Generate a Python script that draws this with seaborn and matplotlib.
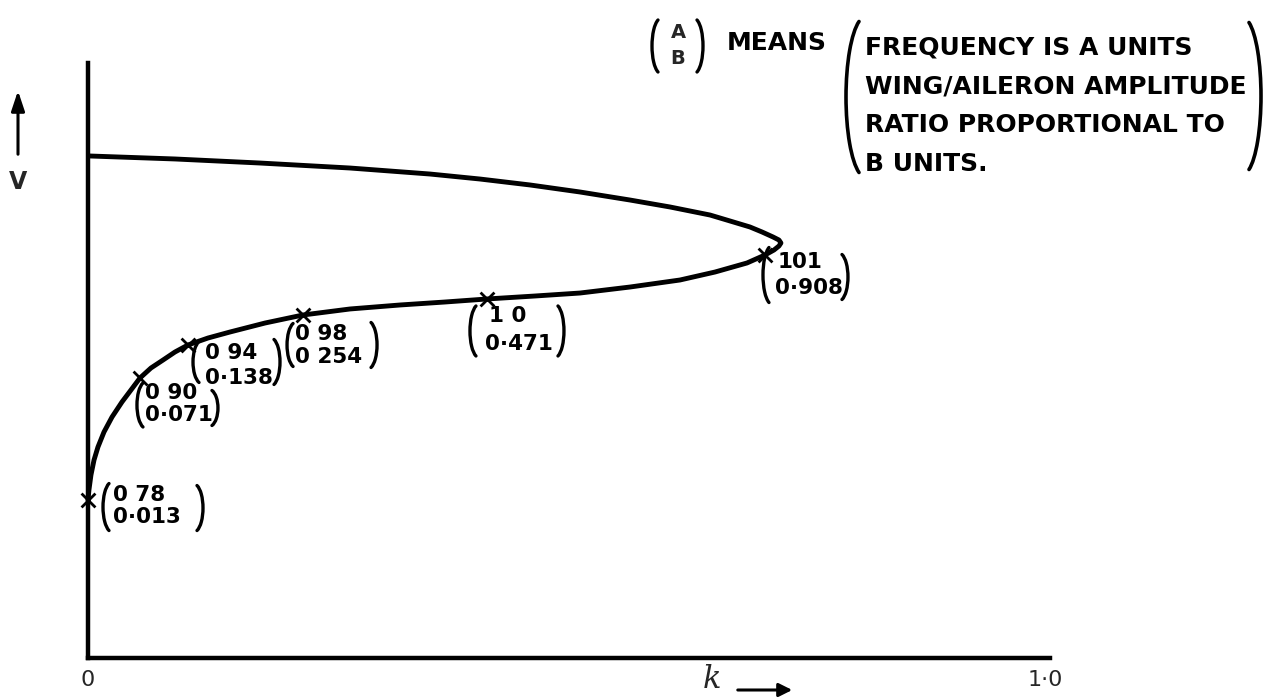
import numpy as np
import pandas as pd
import matplotlib
matplotlib.use("Agg")
import matplotlib.pyplot as plt
from matplotlib.patches import Arc, FancyArrowPatch
from matplotlib.transforms import IdentityTransform
import seaborn as sns

# Response curve: frequency parameter k against speed V (V in axis units, 0..1)
curve_k = [0.0000, 0.0010, 0.0031, 0.0063, 0.0104, 0.0167, 0.0251, 0.0355, 0.0449,
           0.0543, 0.0658, 0.0784, 0.0909, 0.1045, 0.1254, 0.1484, 0.1850, 0.2247,
           0.2738, 0.3260, 0.3730, 0.4169, 0.4671, 0.5141, 0.5664, 0.6186, 0.6552,
           0.6886, 0.7074, 0.7168, 0.7220, 0.7241, 0.7220, 0.7158, 0.7043, 0.6917,
           0.6708, 0.6500, 0.6082, 0.5664, 0.5141, 0.4619, 0.4096, 0.3574, 0.2738,
           0.1797, 0.0909, 0.0021]
curve_v = [0.2655, 0.2824, 0.3076, 0.3328, 0.3546, 0.3798, 0.4050, 0.4303, 0.4504,
           0.4706, 0.4874, 0.5008, 0.5143, 0.5261, 0.5378, 0.5479, 0.5630, 0.5765,
           0.5866, 0.5933, 0.5983, 0.6034, 0.6084, 0.6134, 0.6235, 0.6353, 0.6487,
           0.6639, 0.6773, 0.6857, 0.6924, 0.6975, 0.7025, 0.7076, 0.7160, 0.7244,
           0.7345, 0.7445, 0.7580, 0.7697, 0.7832, 0.7950, 0.8050, 0.8134, 0.8235,
           0.8319, 0.8387, 0.8437]

# Marked points and their (frequency, amplitude ratio) annotations
point_k = [0.0, 0.0543, 0.1045, 0.2247, 0.4169, 0.7074]
point_v = [0.2655, 0.4706, 0.5261, 0.5765, 0.6034, 0.6773]
freq_labels = ["0 78", "0 90", "0 94", "0 98", "1 0", "101"]
ratio_labels = ["0·013", "0·071", "0·138", "0 254", "0·471", "0·908"]

x_tick_values = [0.0, 1.0]
x_tick_labels = ["0", "1·0"]

key_lines = ["FREQUENCY IS A UNITS", "WING/AILERON AMPLITUDE",
             "RATIO PROPORTIONAL TO", "B UNITS."]

W, H = 1264, 698
sns.set_style("white")
plt.rcParams["font.family"] = ["DejaVu Sans"]
fig = plt.figure(figsize=(W / 100, H / 100), dpi=100)

ax_left, ax_right, ax_bottom, ax_top = 88, 1050, 658, 63
ax = fig.add_axes([ax_left / W, (H - ax_bottom) / H,
                   (ax_right - ax_left) / W, (ax_bottom - ax_top) / H])
ax.set_xlim(0, (ax_right - ax_left) / 957)
ax.set_ylim(0, 1)

curve = pd.DataFrame({"k": curve_k, "V": curve_v})
sns.lineplot(data=curve, x="k", y="V", sort=False, estimator=None, ax=ax,
             color="black", linewidth=3.5, solid_joinstyle="round",
             solid_capstyle="round", clip_on=False)

points = pd.DataFrame({"k": point_k, "V": point_v})
sns.scatterplot(data=points, x="k", y="V", marker="x", s=100, color="black",
                linewidth=2.0, ax=ax, clip_on=False, zorder=5)

for side in ["top", "right"]:
    ax.spines[side].set_visible(False)
for side in ["left", "bottom"]:
    ax.spines[side].set_linewidth(3.2)
    ax.spines[side].set_color("black")

ax.set_xticks(x_tick_values)
ax.set_xticklabels(x_tick_labels, fontsize=16)
ax.set_yticks([])
ax.tick_params(axis="x", direction="in", length=8, width=1.6, pad=9)
ax.set_xlabel("")
ax.set_ylabel("")


def paren(x, y, h, bulge, side, lw=2.4, sweep=70):
    """Draw a bracket as an elliptical arc; (x, y) is its outermost point in
    pixels measured from the top-left corner of the figure."""
    t = np.deg2rad(sweep)
    b = h / (2 * np.sin(t))
    a = bulge / (1 - np.cos(t))

    def true_angle(p):
        p = np.deg2rad(p)
        return np.rad2deg(np.arctan2(b * np.sin(p), a * np.cos(p))) % 360

    if side == "(":
        cx = x + a
        t1, t2 = true_angle(180 - sweep), true_angle(180 + sweep)
    else:
        cx = x - a
        t1, t2 = true_angle(-sweep) - 360, true_angle(sweep)
    fig.add_artist(Arc((cx, H - y), 2 * a, 2 * b, theta1=t1, theta2=t2,
                       transform=IdentityTransform(), lw=lw, color="black",
                       capstyle="round"))


# Bracketed annotations beside each marked point (pixel offsets from the mark)
layout = [
    # open (dx, dy, h), freq (dx, dy), ratio (dx, dy), close (dx, dy, h)
    ((15, 7, 47), (25, -5), (25, 17), (115, 8, 45)),
    ((-3, 27, 44), (5, 15), (5, 37), (78, 30, 35)),
    ((5, 17, 41), (17, 8), (17, 33), (92, 17, 45)),
    ((-16, 30, 43), (-8, 19), (-8, 42), (74, 30, 45)),
    ((-17, 32, 50), (2, 17), (-2, 45), (77, 32, 50)),
    ((-2, 20, 55), (13, 7), (10, 33), (83, 22, 45)),
]
txt = dict(color="black", fontsize=15.5, fontweight="bold", va="center", ha="left")
fig.canvas.draw()
for (k, v, f, r, lay) in zip(point_k, point_v, freq_labels, ratio_labels, layout):
    (ox, oy, oh), (fx, fy), (rx, ry), (cx, cy, ch) = lay
    mx, my = ax.transData.transform((k, v))
    my = H - my
    paren(mx + ox, my + oy, oh, 6, "(")
    paren(mx + cx, my + cy, ch, 6, ")")
    ax.annotate(f, (k, v), xytext=(fx, -fy), textcoords="offset pixels", **txt)
    ax.annotate(r, (k, v), xytext=(rx, -ry), textcoords="offset pixels", **txt)

# Axis captions: k with an arrow under the axis, V with an upward arrow at the left
fig.text(712 / W, 1 - 680 / H, "k", fontsize=22, style="italic", ha="center",
         va="center", family=["DejaVu Serif"])
fig.add_artist(FancyArrowPatch(
    (735 / W, 1 - 690 / H), (795 / W, 1 - 690 / H), transform=fig.transFigure,
    arrowstyle="-|>,head_length=8,head_width=4", linewidth=2.2, color="black"))
fig.add_artist(FancyArrowPatch(
    (18 / W, 1 - 157 / H), (18 / W, 1 - 88 / H), transform=fig.transFigure,
    arrowstyle="-|>,head_length=12,head_width=4", linewidth=2.2, color="black"))
fig.text(18 / W, 1 - 182 / H, "V", fontsize=17, fontweight="bold", ha="center",
         va="center")

# Key explaining the bracketed pairs
key = dict(color="black", fontsize=18, fontweight="bold", va="center", ha="left")
fig.text(678 / W, 1 - 33 / H, "A", ha="center", va="center", fontsize=14,
         fontweight="bold")
fig.text(678 / W, 1 - 59 / H, "B", ha="center", va="center", fontsize=14,
         fontweight="bold")
paren(652, 46, 52, 6, "(")
paren(703, 46, 52, 6, ")")
fig.text(727 / W, 1 - 43 / H, "MEANS", **key)
for i, line in enumerate(key_lines):
    fig.text(865 / W, 1 - (47 + 39 * i) / H, line, **key)
paren(846, 97, 151, 13, "(", lw=2.6)
paren(1261, 96, 147, 12, ")", lw=2.6)

fig.savefig("out.png", dpi=100)
